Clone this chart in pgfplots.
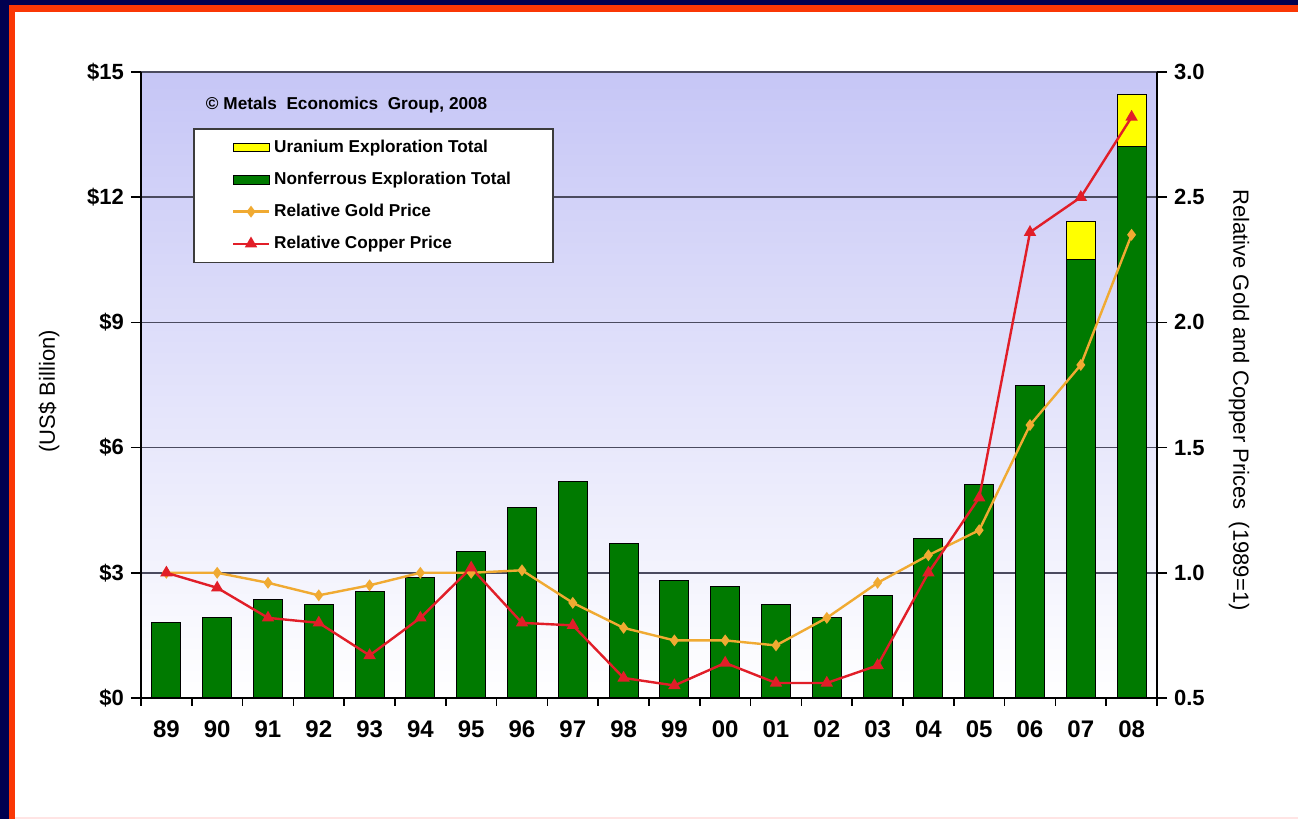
\documentclass[border=0pt]{standalone}
\usepackage{fontspec}
\setmainfont{Liberation Sans}
\usepackage{pgfplots}
\usepackage{pgfplotstable}
\pgfplotsset{compat=1.18}

\definecolor{navy}{RGB}{0,0,80}
\definecolor{framered}{RGB}{250,55,5}
\definecolor{framepink}{RGB}{255,228,228}
\definecolor{legborder}{RGB}{60,60,60}
\definecolor{bargreen}{RGB}{0,122,0}
\definecolor{baryellow}{RGB}{255,255,0}
\definecolor{goldline}{RGB}{240,170,50}
\definecolor{copperline}{RGB}{225,30,40}
\definecolor{gridc}{RGB}{75,75,95}
\definecolor{bgtop}{RGB}{198,198,246}
\definecolor{bgmid}{RGB}{228,228,250}

\pgfplotsset{
  mylinelegend/.style={legend image code/.code={\draw[##1, mark repeat=2, mark phase=2] plot coordinates {(0pt,0pt) (9pt,0pt) (18pt,0pt)};}},
}

\pgfplotstableread{
x green gold copper
0 1.82 1.00 1.00
1 1.92 1.00 0.94
2 2.35 0.96 0.82
3 2.25 0.91 0.80
4 2.54 0.95 0.67
5 2.88 1.00 0.82
6 3.50 1.00 1.02
7 4.56 1.01 0.80
8 5.18 0.88 0.79
9 3.69 0.78 0.58
10 2.81 0.73 0.55
11 2.66 0.73 0.64
12 2.25 0.71 0.56
13 1.92 0.82 0.56
14 2.45 0.96 0.63
15 3.81 1.07 1.00
16 5.11 1.17 1.30
17 7.48 1.59 2.36
18 10.50 1.83 2.50
19 13.21 2.35 2.82
}\datatable

\pgfplotstableread{
x total
18 11.41
19 14.46
}\uraniumtable

\begin{document}
\begin{tikzpicture}
% frame
\fill[white] (0,0) rectangle (649pt,409.5pt);
\fill[navy] (0,0) rectangle (4.5pt,409.5pt);
\fill[navy] (0,407pt) rectangle (649pt,409.5pt);
\fill[framered] (4.5pt,0) rectangle (7.5pt,407pt);
\fill[framered] (4.5pt,403.5pt) rectangle (649pt,407pt);
\fill[framepink] (7.5pt,0) rectangle (649pt,0.8pt);

\begin{axis}[
  at={(70.5pt,60.5pt)}, anchor=south west,
  width=508pt, height=313pt, scale only axis,
  xmin=-0.5, xmax=19.5, ymin=0, ymax=15,
  axis x line*=bottom, axis y line*=left,
  x axis line style={-, black, line width=0.9pt},
  y axis line style={-, black, line width=0.9pt},
  axis background/.style={shade, top color=bgtop, middle color=bgmid, bottom color=white},
  ymajorgrids, major grid style={gridc, line width=0.75pt},
  tick align=outside,
  xtick={0,...,19},
  xticklabels={89,90,91,92,93,94,95,96,97,98,99,00,01,02,03,04,05,06,07,08},
  minor xtick={-0.5,0.5,1.5,2.5,3.5,4.5,5.5,6.5,7.5,8.5,9.5,10.5,11.5,12.5,13.5,14.5,15.5,16.5,17.5,18.5,19.5},
  every major x tick/.append style={draw=none},
  every minor x tick/.append style={black, line width=0.8pt},
  minor tick length=4pt,
  ytick={0,3,6,9,12,15},
  yticklabels={\$0,\$3,\$6,\$9,\$12,\$15},
  every major y tick/.append style={black, line width=0.8pt},
  major tick length=5pt,
  xticklabel style={font=\fontsize{12}{14}\selectfont\bfseries, yshift=-3pt},
  yticklabel style={font=\fontsize{11}{13}\selectfont\bfseries},
  ylabel={(US\$ Billion)},
  ylabel style={at={(axis description cs:-0.0906,0.49)}, anchor=center, rotate=0, font=\fontsize{11}{13}\selectfont},
  legend style={at={(0.0512,0.9105)}, anchor=north west, draw=legborder, line width=0.8pt, fill=white,
    font=\fontsize{8.6}{10}\selectfont\bfseries, inner xsep=19pt, inner ysep=3.5pt, row sep=4.3pt},
  legend cell align=left,
]
\addplot[ybar, bar width=0.57, bar shift=0pt, fill=baryellow, draw=black, line width=0.5pt,
  legend image code/.code={\draw[fill=baryellow, draw=black, line width=0.5pt] (0pt,-2.2pt) rectangle (18pt,2.2pt);}]
  table[x=x, y=total]{\uraniumtable};
\addlegendentry{Uranium Exploration Total}
\addplot[ybar, bar width=0.57, bar shift=0pt, fill=bargreen, draw=black, line width=0.5pt,
  legend image code/.code={\draw[fill=bargreen, draw=black, line width=0.5pt] (0pt,-2.2pt) rectangle (18pt,2.2pt);}]
  table[x=x, y=green]{\datatable};
\addlegendentry{Nonferrous Exploration Total}
\addlegendimage{goldline, line width=1.2pt, mark=diamond*, mark size=2pt, mylinelegend}
\addlegendentry{Relative Gold Price}
\addlegendimage{copperline, line width=1.2pt, mark=triangle*, mark size=2.4pt, mylinelegend}
\addlegendentry{Relative Copper Price}
\node[anchor=west, font=\fontsize{8.6}{10}\selectfont\bfseries] at (rel axis cs:0.057,0.947) {©\ Metals\ \ Economics\ \ Group, 2008};
\end{axis}

\begin{axis}[
  at={(70.5pt,60.5pt)}, anchor=south west,
  width=508pt, height=313pt, scale only axis,
  xmin=-0.5, xmax=19.5, ymin=0.5, ymax=3,
  axis x line=none, axis y line*=right,
  y axis line style={-, black, line width=0.9pt},
  tick align=outside,
  ytick={0.5,1,1.5,2,2.5,3},
  yticklabels={0.5,1.0,1.5,2.0,2.5,3.0},
  every major y tick/.append style={black, line width=0.8pt},
  major tick length=5pt,
  yticklabel style={font=\fontsize{11}{13}\selectfont\bfseries},
  ylabel={Relative Gold and Copper Prices\ \ (1989=1)},
  ylabel style={at={(axis description cs:1.0807,0.476)}, anchor=center, rotate=180, font=\fontsize{11}{13}\selectfont},
]
\addplot[goldline, line width=1.2pt, mark=diamond*, mark size=2pt] table[x=x, y=gold]{\datatable};
\addplot[copperline, line width=1.2pt, mark=triangle*, mark size=2.4pt] table[x=x, y=copper]{\datatable};
\end{axis}
\end{tikzpicture}
\end{document}
